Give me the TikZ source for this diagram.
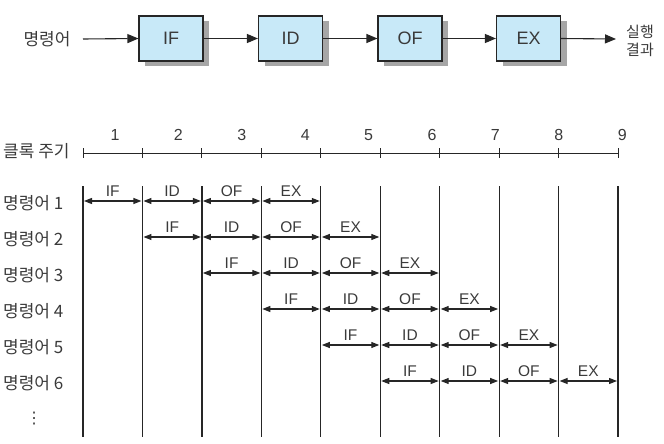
\documentclass[tikz,border=0pt]{standalone}
\usepackage{fontspec}
\setmainfont{Liberation Sans}
\newfontfamily\kr{Noto Sans CJK KR}
\newfontfamily\dv{DejaVu Sans}
\usetikzlibrary{arrows.meta,shadows}
\definecolor{boxblue}{HTML}{C8E9F8}
\definecolor{shadowgray}{HTML}{A6A6A6}
\definecolor{ink}{HTML}{262626}
\definecolor{txt}{HTML}{3A3A3A}
\begin{document}
\begin{tikzpicture}[x=1pt,y=-1pt,
  stagebox/.style={draw=ink, line width=1.1pt, fill=boxblue, minimum width=64pt, minimum height=45pt, inner sep=0pt,
    font=\fontsize{18}{20}\selectfont, text=txt,
    general shadow={fill=shadowgray, shadow xshift=6pt, shadow yshift=-5pt}},
  flow/.style={draw=ink, line width=1.1pt, -{Triangle[length=11pt,width=9pt]}},
  krlabel/.style={font=\kr\fontsize{17}{19}\selectfont, text=txt, inner sep=0pt},
  outlabel/.style={font=\kr\fontsize{15}{18}\selectfont, text=txt, inner sep=0pt},
  numlabel/.style={font=\fontsize{16}{18}\selectfont, text=txt, inner sep=0pt},
  dbl/.style={draw=ink, line width=1.1pt, {Triangle[length=8pt,width=6pt]}-{Triangle[length=8pt,width=6pt]}, shorten <=1pt, shorten >=1pt},
  stagelabel/.style={font=\fontsize{15.5}{17}\selectfont, text=txt, inner sep=0pt, above=4pt},
  vline/.style={draw=ink, line width=1.2pt},
  axisline/.style={draw=ink, line width=0.9pt}
]
\useasboundingbox (0,0) rectangle (664,444);

% ---- top pipeline ----
\node[krlabel] (inlab) at (47,39) {명령어};
\coordinate (instart) at (83,39);
\node[stagebox] (IF) at (171,38.5) {IF};
\node[stagebox] (ID) at (290.5,38.5) {ID};
\node[stagebox] (OF) at (410,38.5) {OF};
\node[stagebox] (EX) at (528.5,38.5) {EX};
\coordinate (outend) at (616,39);
\node[outlabel, anchor=west, align=left] (outlab) at (626,41) {실행\\결과};
\draw[flow] (instart) -- (IF.west);
\draw[flow] (IF.east) -- (ID.west);
\draw[flow] (ID.east) -- (OF.west);
\draw[flow] (OF.east) -- (EX.west);
\draw[flow] (EX.east) -- (outend);

% ---- clock axis ----
\node[krlabel, anchor=west] (clk) at (3,151) {클록 주기};
\foreach \i in {0,...,9} {
  \coordinate (t\i) at ({83+59.45*\i},153);
  \coordinate (vt\i) at ({83+59.45*\i},186);
  \coordinate (vb\i) at ({83+59.45*\i},437);
}
\draw[axisline] (t0) -- (t9);
\foreach \i in {0,...,9} {
  \draw[axisline] ([yshift=5pt]t\i) -- ([yshift=-5pt]t\i);
  \draw[vline] (vt\i) -- (vb\i);
}
\foreach \i in {1,...,9} {
  \node[numlabel] (n\i) at ({115+63.4*(\i-1)},135) {\i};
}

% ---- rows ----
\foreach \r in {1,...,6} {
  \node[krlabel, anchor=west] (row\r) at (3,{201+36*(\r-1)+2}) {명령어 \r};
  \foreach \i in {0,...,9} {
    \coordinate (g\i-\r) at ({83+59.45*\i},{201+36*(\r-1)});
  }
}
\foreach \r in {1,...,6} {
  \foreach \s/\lab in {0/IF,1/ID,2/OF,3/EX} {
    \pgfmathtruncatemacro{\a}{\r-1+\s}
    \pgfmathtruncatemacro{\b}{\r+\s}
    \draw[dbl] (g\a-\r) -- node[stagelabel] {\lab} (g\b-\r);
  }
}
\node[inner sep=0pt, text=txt, font=\dv\fontsize{16}{18}\selectfont] (dots) at (34,419) {⋮};
\end{tikzpicture}
\end{document}
